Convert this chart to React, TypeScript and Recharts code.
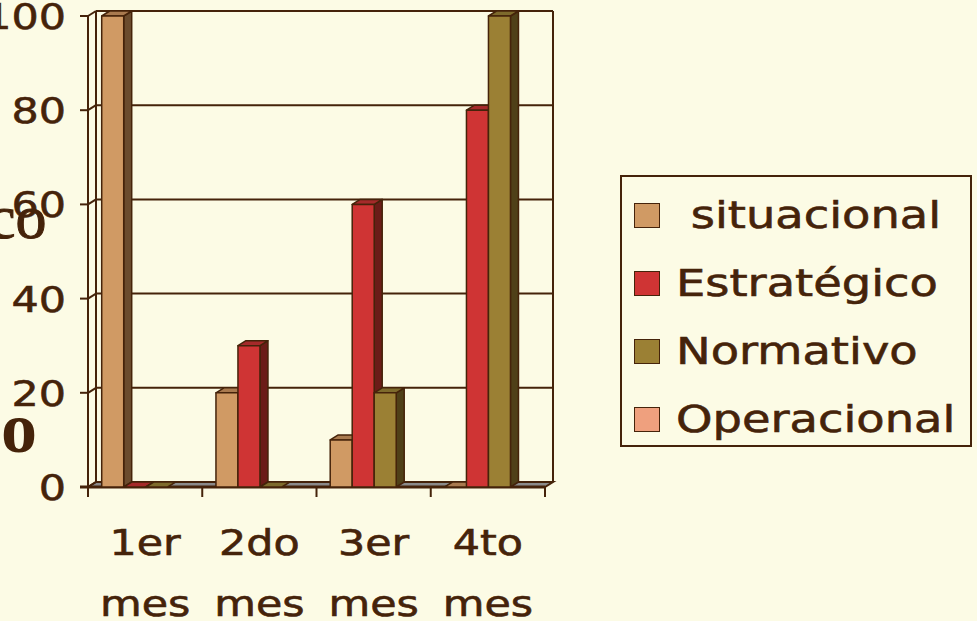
import React from "react"
import { BarChart, Bar, XAxis, YAxis, CartesianGrid } from "recharts"

const categories = ["1er mes", "2do mes", "3er mes", "4to mes"]
const situacional = [100, 20, 10, 0]
const estrategico = [0, 30, 60, 80]
const normativo = [0, 0, 20, 100]
const operacional = [0, 0, 0, 0]
const yTicks = [0, 20, 40, 60, 80, 100]

const series = [
  { key: "situacional", label: " situacional", values: situacional, front: "#d09a64", side: "#6b4c2e", top: "#a97a4f", flat: false },
  { key: "estrategico", label: "Estratégico", values: estrategico, front: "#cf3434", side: "#6b1c18", top: "#a52a2a", flat: false },
  { key: "normativo", label: "Normativo", values: normativo, front: "#9b8034", side: "#4f4018", top: "#7d6a2c", flat: false },
  { key: "operacional", label: "Operacional", values: operacional, front: "#efa07e", side: "#8a5a44", top: "#c98468", flat: true },
]

const data = categories.map((c, i) => {
  const row: any = { name: c }
  series.forEach((s) => (row[s.key] = s.values[i]))
  return row
})

const W = 977
const H = 621
const BG = "#fcfbe5"
const INK = "#45230a"
const DX = 8
const DY = 5
const FONT = "'DejaVu Sans', Verdana, sans-serif"
const STRETCH = 1.19

function Bar3D(props: any) {
  const { x, y, width, height, front, side, top, flat } = props
  if (x == null || width == null) return null
  if (!height || height < 0.5) {
    if (flat) return null
    const b = y + (height || 0)
    return (
      <polygon
        points={`${x},${b} ${x + width},${b} ${x + width + DX},${b - DY} ${x + DX},${b - DY}`}
        fill={top}
        stroke={INK}
        strokeWidth={1.5}
      />
    )
  }
  return (
    <g stroke={INK} strokeWidth={1.5} strokeLinejoin="round">
      <polygon
        points={`${x + width},${y} ${x + width + DX},${y - DY} ${x + width + DX},${y + height - DY} ${x + width},${y + height}`}
        fill={side}
      />
      <polygon
        points={`${x},${y} ${x + DX},${y - DY} ${x + width + DX},${y - DY} ${x + width},${y}`}
        fill={top}
      />
      <rect x={x} y={y} width={width} height={height} fill={front} />
    </g>
  )
}

function gridLine(p: any) {
  const { x1, x2, y1 } = p
  const gy = p.y
  const bottom = gy + p.height
  const isBottom = Math.abs(y1 - bottom) < 1
  const isTop = Math.abs(y1 - gy) < 1
  return (
    <g key={p.key} stroke={INK} strokeWidth={2}>
      {isBottom && (
        <polygon
          points={`${x1},${y1} ${x2},${y1} ${x2 + DX},${y1 - DY} ${x1 + DX},${y1 - DY}`}
          fill="#8a8a8a"
        />
      )}
      {isTop && (
        <>
          <line x1={x1 + DX} y1={y1 - DY} x2={x1 + DX} y2={bottom - DY} />
          <line x1={x2 + DX} y1={y1 - DY} x2={x2 + DX} y2={bottom - DY} />
        </>
      )}
      <line x1={x1 + DX} y1={y1 - DY} x2={x2 + DX} y2={y1 - DY} />
      <line x1={x1} y1={y1} x2={x1 + DX} y2={y1 - DY} />
      {isBottom && <line x1={x1 - 8} y1={y1} x2={x2} y2={y1} strokeWidth={3} />}
    </g>
  )
}

function Wide(props: any) {
  const { x, y, anchor, children } = props
  return (
    <text
      x={x}
      y={y}
      textAnchor={anchor}
      fill={INK}
      stroke={INK}
      strokeWidth={0.6}
      fontSize={36}
      fontFamily={FONT}
      transform={`translate(${x} 0) scale(${STRETCH} 1) translate(${-x} 0)`}
    >
      {children}
    </text>
  )
}

function XTick(props: any) {
  const { x, y, payload, index } = props
  const half = payload && payload.offset ? payload.offset : 57
  const [l1, l2] = String(payload.value).split(" ")
  const last = index === categories.length - 1
  return (
    <g>
      <line x1={x - half} y1={y} x2={x - half} y2={y + 10} stroke={INK} strokeWidth={2} />
      {last && <line x1={x + half} y1={y} x2={x + half} y2={y + 10} stroke={INK} strokeWidth={2} />}
      <Wide x={x} y={y + 68} anchor="middle">{l1}</Wide>
      <Wide x={x} y={y + 129} anchor="middle">{l2}</Wide>
    </g>
  )
}

function YTick(props: any) {
  const { x, y, payload } = props
  return (
    <Wide x={x} y={y + 13} anchor="end">
      {payload.value}
    </Wide>
  )
}

export default function App() {
  return (
    <div style={{ position: "absolute", left: 0, top: 0, width: W, height: H, background: BG, overflow: "hidden" }}>
      <svg width={W} height={H} style={{ position: "absolute", left: 0, top: 0 }}>
        <text x={-12} y={238} fontSize={62} stroke={INK} strokeWidth={1} fontFamily="'Liberation Serif', serif" fill={INK}>co</text>
        <text x={1} y={452} fontSize={72} fontWeight="bold" fontFamily="'Liberation Serif', serif" fill={INK}>o</text>
      </svg>
      <div style={{ position: "absolute", left: 0, top: 0 }}>
        <BarChart
          width={W}
          height={H}
          data={data}
          margin={{ top: 16, right: 432, bottom: 0, left: 0 }}
          barCategoryGap="12%"
          barGap={0}
        >
          <CartesianGrid vertical={false} horizontal={gridLine} />
          <XAxis
            dataKey="name"
            axisLine={false}
            tickLine={false}
            tickSize={0}
            tickMargin={0}
            height={134}
            interval={0}
            tick={<XTick />}
          />
          <YAxis
            domain={[0, 100]}
            ticks={yTicks}
            width={88}
            axisLine={{ stroke: INK, strokeWidth: 2 }}
            tickLine={{ stroke: INK, strokeWidth: 2 }}
            tickSize={8}
            tickMargin={14}
            tick={<YTick />}
          />
          {series.map((s) => (
            <Bar
              key={s.key}
              dataKey={s.key}
              name={s.label}
              fill={s.front}
              isAnimationActive={false}
              shape={(p: any) => <Bar3D {...p} front={s.front} side={s.side} top={s.top} flat={s.flat} />}
            />
          ))}
        </BarChart>
      </div>
      <div
        style={{
          position: "absolute",
          left: 620,
          top: 175,
          width: 352,
          height: 272,
          border: `2px solid ${INK}`,
          boxSizing: "border-box",
        }}
      >
        {series.map((s, i) => (
          <div
            key={s.key}
            style={{
              position: "absolute",
              left: 12,
              top: 13 + i * 68,
              height: 50,
              display: "flex",
              alignItems: "center",
              fontFamily: FONT,
              fontSize: 38,
              color: INK,
              whiteSpace: "pre",
              WebkitTextStroke: `0.6px ${INK}`,
            }}
          >
            <span
              style={{
                display: "inline-block",
                width: 26,
                height: 25,
                background: s.front,
                border: `1.5px solid ${INK}`,
                marginRight: 16,
                boxSizing: "border-box",
              }}
            />
            <span style={{ display: "inline-block", transform: "scaleX(1.22)", transformOrigin: "left center" }}>
              {s.label}
            </span>
          </div>
        ))}
      </div>
    </div>
  )
}
